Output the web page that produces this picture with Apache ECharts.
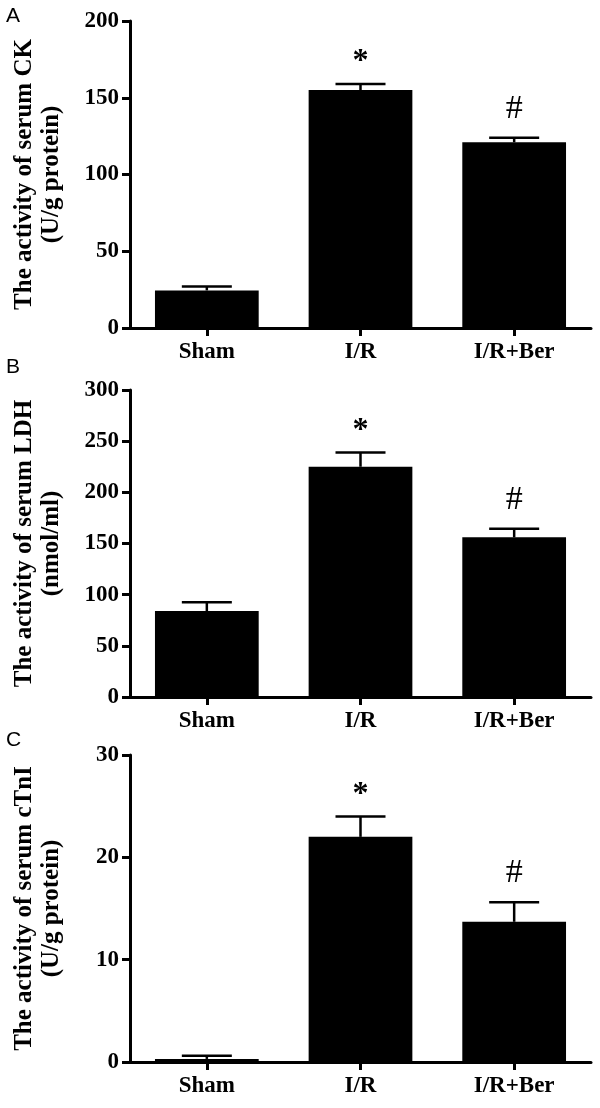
<!DOCTYPE html>
<html>
<head>
<meta charset="utf-8">
<script src="https://cdn.jsdelivr.net/npm/echarts@6/dist/echarts.min.js"></script>
<style>
html,body{margin:0;padding:0;background:#fff;}
#chart{width:600px;height:1108px;}
</style>
</head>
<body>
<div id="chart"></div>
<script>
// ---- data ----
const categories = ['Sham', 'I/R', 'I/R+Ber'];
const ckMean = [24.5, 155, 121];
const ckErr = [2.6, 4, 3];
const ldhMean = [84, 225, 156];
const ldhErr = [8.5, 14, 8.5];
const ctniMean = [0.3, 22, 13.7];
const ctniErr = [0.3, 2, 1.9];
const signif = ['', '*', '#'];
const panelLetters = ['A', 'B', 'C'];
const yTitles = [
  'The activity of serum CK\n(U/g protein)',
  'The activity of serum LDH\n(nmol/ml)',
  'The activity of serum cTnI\n(U/g protein)'
];
const yMax = [200, 300, 30];
const yInterval = [50, 50, 10];

const panels = [
  {mean: ckMean, err: ckErr},
  {mean: ldhMean, err: ldhErr},
  {mean: ctniMean, err: ctniErr}
];

const serif = '"Liberation Serif", "Times New Roman", serif';
const gridTops = [21, 390, 755];
const gridH = 307;

const chart = echarts.init(document.getElementById('chart'), null, {renderer: 'canvas'});

const grids = [], xAxes = [], yAxes = [], series = [];
panels.forEach((p, k) => {
  grids.push({left: 130, width: 461, top: gridTops[k], height: gridH});
  xAxes.push({
    type: 'category', gridIndex: k, data: categories,
    axisLine: {lineStyle: {color: '#000', width: 3}},
    axisTick: {show: true, alignWithLabel: true, length: 8, lineStyle: {color: '#000', width: 3}},
    axisLabel: {color: '#000', fontFamily: serif, fontWeight: 'bold', fontSize: 23, margin: 13},
    splitLine: {show: false}
  });
  yAxes.push({
    type: 'value', gridIndex: k, min: 0, max: yMax[k], interval: yInterval[k],
    name: yTitles[k], nameLocation: 'middle', nameGap: 65, nameRotate: 90,
    nameTextStyle: {color: '#000', fontFamily: serif, fontWeight: 'bold', fontSize: 25, lineHeight: 27},
    axisLine: {show: true, lineStyle: {color: '#000', width: 3}},
    axisTick: {show: true, length: 8, lineStyle: {color: '#000', width: 3}},
    axisLabel: {color: '#000', fontFamily: serif, fontWeight: 'bold', fontSize: 23, margin: 11},
    splitLine: {show: false}
  });
  series.push({
    type: 'bar', xAxisIndex: k, yAxisIndex: k, data: p.mean,
    barWidth: '67.5%', itemStyle: {color: '#000'}, z: 2
  });
  series.push({
    type: 'custom', xAxisIndex: k, yAxisIndex: k,
    data: p.mean.map((m, i) => [i, m, m + p.err[i]]),
    z: 3,
    renderItem: function (params, api) {
      const i = api.value(0);
      const base = api.coord([i, api.value(1)]);
      const top = api.coord([i, api.value(2)]);
      const capHalf = 25;
      const children = [
        {type: 'line', shape: {x1: base[0], y1: base[1], x2: top[0], y2: top[1]}, style: {stroke: '#000', lineWidth: 2.5}},
        {type: 'line', shape: {x1: top[0] - capHalf, y1: top[1], x2: top[0] + capHalf, y2: top[1]}, style: {stroke: '#000', lineWidth: 2.5}}
      ];
      const s = signif[i];
      if (s) {
        const star = s === '*';
        children.push({
          type: 'text',
          style: {
            text: s, x: top[0], y: star ? top[1] - 22 : top[1] - 29,
            align: 'center', verticalAlign: 'middle',
            fontFamily: serif, fontWeight: star ? 'bold' : 'normal',
            fontSize: star ? 32 : 34, fill: '#000'
          }
        });
      }
      return {type: 'group', children: children};
    }
  });
});

chart.setOption({
  animation: false,
  backgroundColor: '#fff',
  grid: grids,
  xAxis: xAxes,
  yAxis: yAxes,
  series: series,
  graphic: panelLetters.map((L, k) => ({
    type: 'text', left: 6, top: [6, 357, 730][k],
    style: {text: L, fontFamily: '"Liberation Sans", Arial, sans-serif', fontSize: 21, fill: '#000'}
  }))
});
</script>
</body>
</html>
